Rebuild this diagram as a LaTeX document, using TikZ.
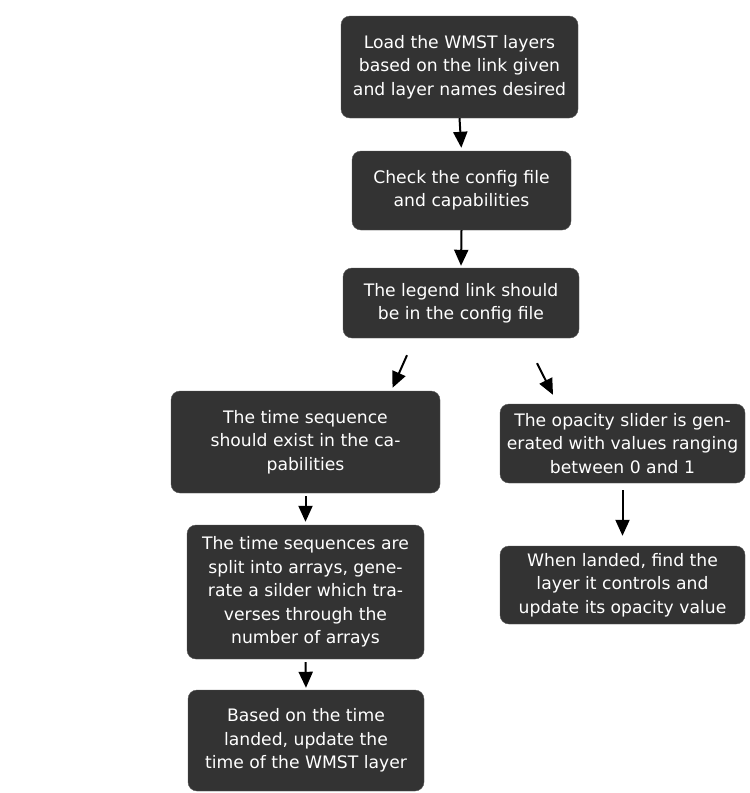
\documentclass[tikz,border=0pt]{standalone}
\usepackage{fontspec}
\setmainfont{DejaVu Sans}
\definecolor{boxgray}{HTML}{333333}
\definecolor{edgegray}{HTML}{555555}
\usetikzlibrary{arrows.meta, calc}

\tikzset{
  stepbox/.style={draw=edgegray, fill=boxgray, rounded corners=9pt, text=white,
    align=center, inner sep=0pt, font=\fontsize{17.2}{23.5}\selectfont},
  arr/.style={-{Triangle[width=14pt,length=16pt]}, line width=2pt, black}
}

\begin{document}
\begin{tikzpicture}[x=1pt, y=-1pt]
            \useasboundingbox (0,0) rectangle (750,793);
            % Main column
            \node[stepbox, minimum width=237pt, minimum height=102pt] (load) at (459.5,67)
               {Load the WMST layers\\based on the link given\\and layer names desired};
            \node[stepbox, minimum width=219pt, minimum height=79pt] (check) at (461.5,190.5)
               {Check the config file\\and capabilities};
            \node[stepbox, minimum width=236pt, minimum height=70pt] (legend) at (461,303)
               {The legend link should\\be in the config file};
            % Time branch
            \node[stepbox, minimum width=269pt, minimum height=102pt] (seq) at (305.5,442)
               {The time sequence\\should exist in the ca-\\pabilities};
            \node[stepbox, minimum width=237pt, minimum height=134pt] (split) at (305.5,592)
               {The time sequences are\\split into arrays, gene-\\rate a silder which tra-\\verses through the\\number of arrays};
            \node[stepbox, minimum width=236pt, minimum height=101pt] (based) at (306,740.5)
               {Based on the time\\landed, update the\\time of the WMST layer};
            % Opacity branch
            \node[stepbox, minimum width=245pt, minimum height=79pt] (opac) at (622.5,443.5)
               {The opacity slider is gen-\\erated with values ranging\\between 0 and 1};
            \node[stepbox, minimum width=245pt, minimum height=78pt] (landed) at (622.5,585)
               {When landed, find the\\layer it controls and\\update its opacity value};
            % Arrows
            \draw[arr, shorten >=3pt] (load.south) -- (check.north);
            \draw[arr, shorten >=2pt] (check.south) -- (legend.north);
            \draw[arr] ($(legend.south)+(-54,17)$) -- ($(seq.north)+(87,-3)$);
            \draw[arr] ($(legend.south)+(76,25)$) -- ($(opac.north)+(-69.5,-9)$);
            \draw[arr, shorten <=3pt, shorten >=3pt] (seq.south) -- (split.north);
            \draw[arr, shorten <=3pt, shorten >=2pt] (split.south) -- (based.north);
            \draw[arr, shorten <=7pt, shorten >=10pt] (opac.south) -- (landed.north);
         \end{tikzpicture}
\end{document}
